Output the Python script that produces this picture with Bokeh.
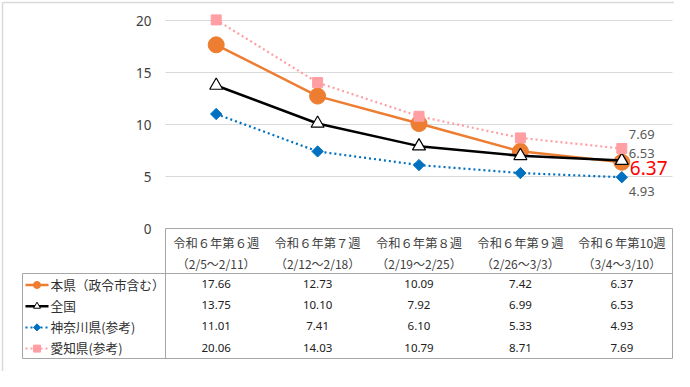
import math
from bokeh.plotting import figure
from bokeh.models import LinearAxis, FixedTicker, Range1d
from bokeh.core.properties import value
from bokeh.embed import file_html
from bokeh.resources import INLINE

# ---------------- data ----------------
weeks = ["令和６年第６週", "令和６年第７週", "令和６年第８週", "令和６年第９週", "令和６年第10週"]
periods = ["（2/5～2/11）", "（2/12～2/18）", "（2/19～2/25）", "（2/26～3/3）", "（3/4～3/10）"]
series_names = ["本県（政令市含む）", "全国", "神奈川県(参考)", "愛知県(参考)"]
honken = [17.66, 12.73, 10.09, 7.42, 6.37]
zenkoku = [13.75, 10.10, 7.92, 6.99, 6.53]
kanagawa = [11.01, 7.41, 6.10, 5.33, 4.93]
aichi = [20.06, 14.03, 10.79, 8.71, 7.69]
y_ticks = [0, 5, 10, 15, 20]

# ---------------- layout helpers (reference pixel -> data) ----------------
W, H = 674, 371
OFF = 0
PLOT_L, PLOT_R = 165, 672
Y0, Y20 = 228, 20
COLW = (PLOT_R - PLOT_L) / len(weeks)
PXU = (Y0 - Y20) / 20.0


def X(rx):
    return (rx - PLOT_L) / COLW


def Y(ry):
    return (Y0 - ry) / PXU


JP = value("Noto Sans CJK JP")
NUM = value("Noto Sans")

p = figure(width=W, height=H,
           x_range=Range1d(X(OFF), X(OFF + W)),
           y_range=Range1d(Y(OFF + H), Y(OFF)),
           x_axis_type=None, y_axis_type=None,
           toolbar_location=None, output_backend="svg",
           min_border=0, background_fill_color="white",
           border_fill_color="white", outline_line_color=None)

# outer chart border (top / left visible inside the canvas)
p.segment(x0=[X(2), X(2)], x1=[X(2), X(W + 20)], y0=[Y(2), Y(2)], y1=[Y(H + 20), Y(2)],
          line_color="#d9d9d9", line_width=1.5)

# y axis
ax = LinearAxis(fixed_location=0, ticker=FixedTicker(ticks=y_ticks),
                axis_line_color=None, major_tick_line_color=None,
                minor_tick_line_color=None, major_tick_out=0, major_tick_in=0,
                major_label_standoff=14, major_label_text_font_size="13.5px",
                major_label_text_color="#404040",
                major_label_text_font="Noto Sans")
p.add_layout(ax, "left")

ncat = len(weeks)
xs = [i + 0.5 for i in range(ncat)]

# gridlines
gy = [t for t in y_ticks if t > 0]
p.segment(x0=[0] * len(gy), x1=[ncat] * len(gy), y0=gy, y1=gy,
          line_color="#d9d9d9", line_width=1)

# table borders
bc = "#a6a6a6"
lx0 = X(22)
hb = Y(273)
tb = Y(358)
p.segment(x0=[0, lx0, lx0, lx0, 0, ncat],
          x1=[ncat, ncat, ncat, lx0, 0, ncat],
          y0=[0, hb, tb, hb, 0, 0],
          y1=[0, hb, tb, tb, tb, tb],
          line_color=bc, line_width=1)

# series styles
ORANGE = "#ED7D31"
BLUE = "#0070C0"
PINK = "#FF9EA3"
series = [honken, zenkoku, kanagawa, aichi]

# lines
p.line(xs, honken, line_color=ORANGE, line_width=2.5)
p.scatter(xs, honken, marker="circle", size=16, fill_color=ORANGE, line_color=ORANGE)
p.line(xs, zenkoku, line_color="black", line_width=2.5)
p.scatter(xs, zenkoku, marker="triangle", size=13, fill_color="white",
          line_color="black", line_width=1.2)
p.line(xs, kanagawa, line_color=BLUE, line_width=2.2, line_dash="2 3")
p.scatter(xs, kanagawa, marker="square", angle=math.pi / 4, size=8,
          fill_color=BLUE, line_color=BLUE)
p.line(xs, aichi, line_color=PINK, line_width=2.2, line_dash="2 3")
p.scatter(xs, aichi, marker="square", size=10, fill_color=PINK, line_color=PINK)

# end-point data labels
last = ncat - 1
p.text(x=[xs[last]], y=[aichi[last]], text=[f"{aichi[last]:.2f}"], x_offset=7, y_offset=-14,
       text_font=NUM, text_font_size="13px", text_color="#595959",
       text_align="left", text_baseline="middle")
p.text(x=[xs[last]], y=[zenkoku[last]], text=[f"{zenkoku[last]:.2f}"], x_offset=7, y_offset=-7,
       text_font=NUM, text_font_size="13px", text_color="#595959",
       text_align="left", text_baseline="middle")
p.text(x=[xs[last]], y=[kanagawa[last]], text=[f"{kanagawa[last]:.2f}"], x_offset=7, y_offset=14,
       text_font=NUM, text_font_size="13px", text_color="#595959",
       text_align="left", text_baseline="middle")
p.text(x=[xs[last]], y=[honken[last]], text=[f"{honken[last]:.2f}"], x_offset=8, y_offset=6,
       text_font=NUM, text_font_size="19px", text_color="#FF0000",
       text_align="left", text_baseline="middle")

# table header
p.text(x=xs, y=[Y(242)] * ncat, text=weeks, text_font=JP, text_font_size="12.3px",
       text_color="#404040", text_align="center", text_baseline="middle")
p.text(x=xs, y=[Y(263)] * ncat, text=periods, text_font=JP, text_font_size="12px",
       text_color="#404040", text_align="center", text_baseline="middle")

# table rows
row_y = [Y(283.5 + 21.2 * r) for r in range(len(series))]
for r, vals in enumerate(series):
    p.text(x=xs, y=[row_y[r]] * ncat, text=[f"{v:.2f}" for v in vals],
           text_font=NUM, text_font_size="11.5px", text_color="#202020",
           text_align="center", text_baseline="middle")

# legend column
lg0, lg1, lgm = X(25), X(48), X(36.5)
ly = [Y(284.5 + 21.2 * r) for r in range(len(series))]
p.segment(x0=[lg0], x1=[lg1], y0=[ly[0]], y1=[ly[0]], line_color=ORANGE, line_width=2.5)
p.scatter([lgm], [ly[0]], marker="circle", size=7, fill_color=ORANGE, line_color=ORANGE)
p.segment(x0=[lg0], x1=[lg1], y0=[ly[1]], y1=[ly[1]], line_color="black", line_width=2.5)
p.scatter([lgm], [ly[1]], marker="triangle", size=7, fill_color="white", line_color="black")
p.segment(x0=[lg0], x1=[lg1], y0=[ly[2]], y1=[ly[2]], line_color=BLUE, line_width=2, line_dash="2 3")
p.scatter([lgm], [ly[2]], marker="square", angle=math.pi / 4, size=5, fill_color=BLUE, line_color=BLUE)
p.segment(x0=[lg0], x1=[lg1], y0=[ly[3]], y1=[ly[3]], line_color=PINK, line_width=2, line_dash="2 3")
p.scatter([lgm], [ly[3]], marker="square", size=7, fill_color=PINK, line_color=PINK)
p.text(x=[X(50)] * len(series), y=[Y(283.5 + 21.2 * r) for r in range(len(series))],
       text=series_names, text_font=JP, text_font_size="12.7px", text_color="#303030",
       text_align="left", text_baseline="middle")

open("out.html", "w").write(file_html(p, INLINE))
